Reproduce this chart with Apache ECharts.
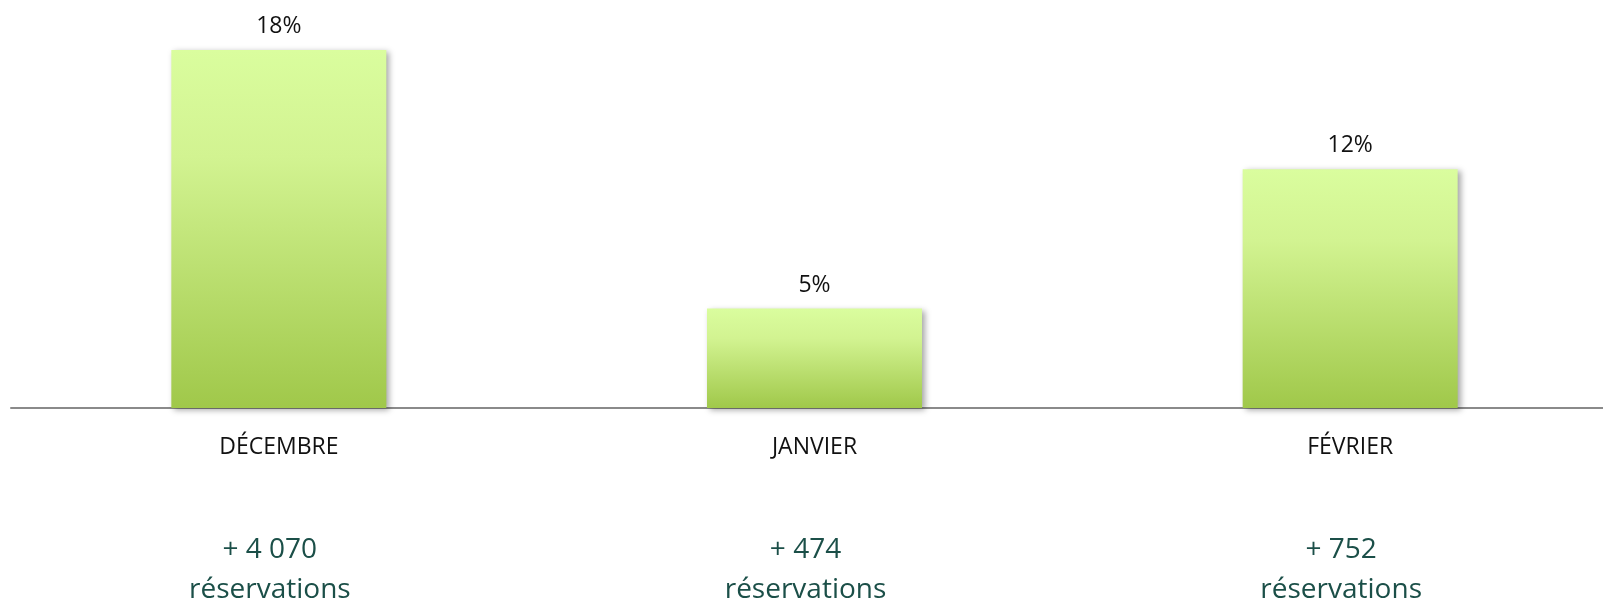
<!DOCTYPE html>
<html>
<head>
<meta charset="utf-8">
<title>Réservations</title>
<script src="https://cdn.jsdelivr.net/npm/echarts@6/dist/echarts.min.js"></script>
<style>
    html, body { margin: 0; padding: 0; background: #fff; }
    #chart { width: 1603px; height: 600px; }
</style>
</head>
<body>
<div id="chart"></div>
<script>
// months shown on the axis
const months = ['DÉCEMBRE', 'JANVIER', 'FÉVRIER'];
// growth in percent
const growth = [18, 5, 12];
// extra reservations under each month
const reservations = ['+ 4 070', '+ 474', '+ 752'];

const chart = echarts.init(document.getElementById('chart'), null, { renderer: 'canvas' });

const barColor = new echarts.graphic.LinearGradient(0, 0, 0, 1, [
    { offset: 0, color: '#dafd9e' },
    { offset: 0.3, color: '#d2f391' },
    { offset: 1, color: '#a0c84a' }
]);

const option = {
    animation: false,
    textStyle: { fontFamily: '"Open Sans", "Noto Sans", sans-serif' },
    // the axis runs past the right edge, so the grid is wider than the page
    grid: { left: 11, top: 50, width: 1607, height: 358, outerBoundsMode: 'none' },
    xAxis: [{
        type: 'category',
        data: months,
        axisLine: { lineStyle: { color: '#8a8a8a', width: 2 } },
        axisTick: { show: false },
        axisLabel: { color: '#111', fontSize: 23, margin: 28 }
    }, {
        // second row of labels: reservations (sits a little left of the bar centre)
        type: 'category',
        position: 'bottom',
        data: reservations,
        axisLine: { show: false },
        axisTick: { show: false },
        axisLabel: {
            margin: 122,
            padding: [0, 18, 0, 0],
            formatter: function (value) {
                return '{a|' + value + '}\n{a|réservations}';
            },
            rich: {
                a: { color: '#1b4f48', fontSize: 28, lineHeight: 40, fontFamily: '"Open Sans", "Noto Sans", sans-serif' }
            }
        }
    }],
    yAxis: {
        type: 'value',
        min: 0,
        max: 18,
        show: false
    },
    series: [{
        type: 'bar',
        data: growth,
        barWidth: 215,
        itemStyle: {
            color: barColor,
            shadowColor: 'rgba(0,0,0,0.35)',
            shadowBlur: 6,
            shadowOffsetX: 3,
            shadowOffsetY: 2
        },
        label: {
            show: true,
            position: 'top',
            distance: 12,
            color: '#111',
            fontSize: 23,
            formatter: '{c}%'
        }
    }]
};

chart.setOption(option);
</script>
</body>
</html>
